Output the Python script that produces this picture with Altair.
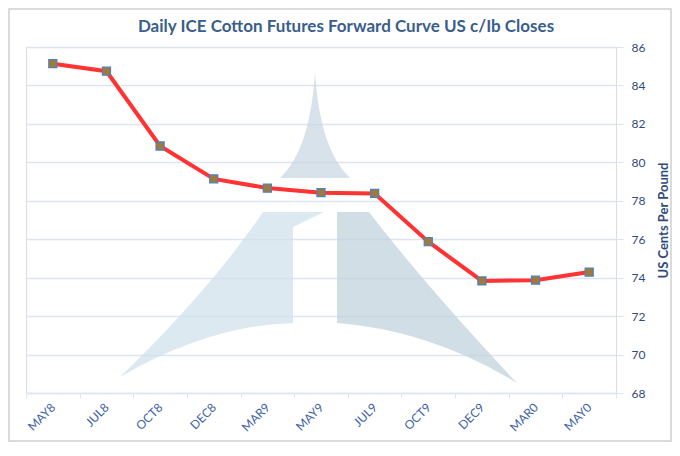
import altair as alt
import pandas as pd

months = ["MAY8", "JUL8", "OCT8", "DEC8", "MAR9", "MAY9", "JUL9", "OCT9", "DEC9", "MAR0", "MAY0"]
closes = [85.13, 84.74, 80.85, 79.14, 78.66, 78.42, 78.38, 75.87, 73.83, 73.87, 74.29]
y_ticks = [68, 70, 72, 74, 76, 78, 80, 82, 84, 86]
title_text = "Daily ICE Cotton Futures Forward Curve US c/Ib Closes"

W, H = 590, 346
FONT = "Lato"
NAVY = "#2f4b7c"
GRID = "#dce6f2"

df = pd.DataFrame({"month": months, "close": closes})
one = pd.DataFrame({"k": [0]})

# decorative watermark (logo) drawn as custom symbol paths, relative to plot origin
spike = "M289,26 Q284,103 254,131 L324,131 Q294,103 289,26 Z"
left_piece = "M237,165 L298,165 L267,180 L267,276 Q184,278 94,330 Q184,243 237,165 Z"
right_piece = "M311,165 L343,165 Q399,238 491,336 Q404,283 311,276 Z"

def logo(path, color):
    return alt.Chart(one).mark_point(
        shape=path, size=4, filled=True, fill=color, strokeWidth=0, opacity=0.7
    ).encode(x=alt.value(0), y=alt.value(0))

border = alt.Chart(one).mark_rect(
    fillOpacity=0, stroke="#d0d0d0", strokeWidth=1.5
).encode(x=alt.value(-17), x2=alt.value(645), y=alt.value(-38), y2=alt.value(394))

title = alt.Chart(pd.DataFrame({"t": [title_text]})).mark_text(
    font=FONT, fontSize=17, fontWeight="bold", color="#3a5e8c",
    align="center", baseline="middle"
).encode(text="t:N", x=alt.value(320), y=alt.value(-20))

x_enc = alt.X(
    "month:N", sort=months, bandPosition=0.5,
    scale=alt.Scale(type="band", paddingInner=0, paddingOuter=0),
    axis=alt.Axis(
        title=None, labelAngle=-45, labelAlign="right", labelBaseline="middle",
        labelColor="#3c62a6", labelFont=FONT, labelFontSize=12, labelPadding=7,
        tickBand="extent", tickSize=5, tickColor=GRID, domainColor=GRID,
        domainWidth=1.5, grid=False,
    ),
)
y_enc = alt.Y(
    "close:Q",
    scale=alt.Scale(domain=[68, 86], nice=False, zero=False),
    axis=alt.Axis(
        orient="right", values=y_ticks, title="US Cents Per Pound",
        titleAngle=270, titleFont=FONT, titleFontSize=13, titleFontWeight="bold",
        titleColor=NAVY, titlePadding=26, labelColor=NAVY, labelFont=FONT,
        labelFontSize=12, labelPadding=8, tickSize=7, tickColor=GRID,
        domain=False, grid=True, gridColor=GRID, gridWidth=1.3,
    ),
)

line = alt.Chart(df).mark_line(color="#ff3333", strokeWidth=4).encode(x=x_enc, y=y_enc)
pts = alt.Chart(df).mark_point(
    shape="square", size=64, filled=True, fill="#a07a3a", stroke="#4f81bd",
    strokeWidth=1.3, opacity=1
).encode(x=x_enc, y=y_enc)

chart = alt.layer(
    logo(spike, "#c6d6e2"), logo(left_piece, "#cedfeb"), logo(right_piece, "#bfd0db"),
    line, pts, border, title,
).properties(
    width=W, height=H,
    autosize=alt.AutoSizeParams(type="none"),
    padding={"left": 18, "top": 39, "right": 56, "bottom": 49},
).configure_view(stroke=None).configure(background="white")

chart.save("out.html", embed_options={"renderer": "svg", "actions": False})
